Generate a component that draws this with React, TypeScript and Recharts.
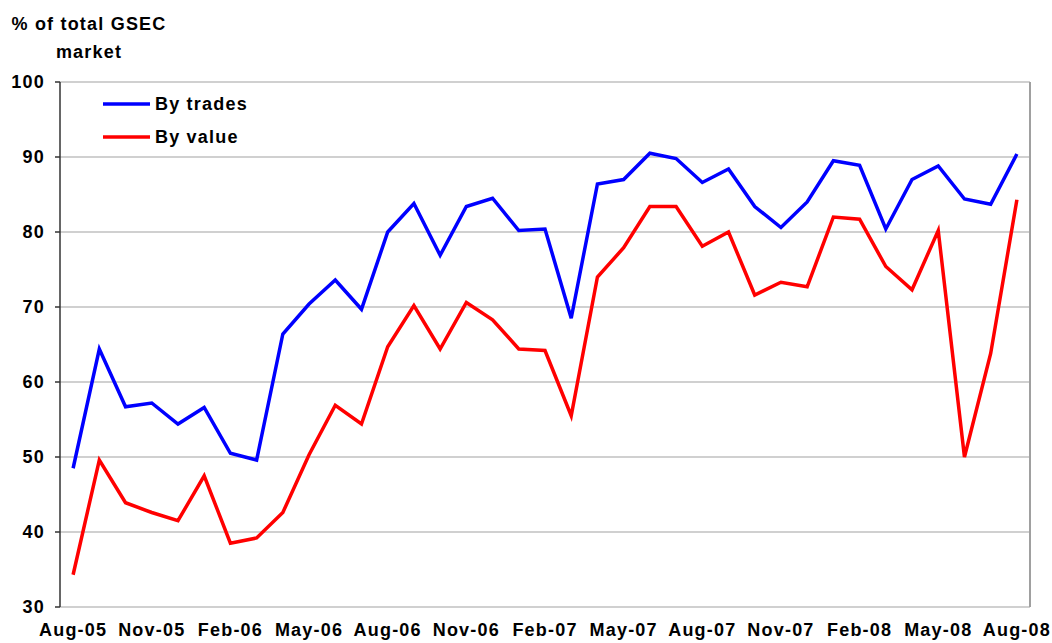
import React from "react";
import { LineChart, Line, XAxis, YAxis, CartesianGrid, ReferenceLine } from "recharts";

const months = [
  "Aug-05","Sep-05","Oct-05","Nov-05","Dec-05","Jan-06","Feb-06","Mar-06","Apr-06","May-06","Jun-06","Jul-06",
  "Aug-06","Sep-06","Oct-06","Nov-06","Dec-06","Jan-07","Feb-07","Mar-07","Apr-07","May-07","Jun-07","Jul-07",
  "Aug-07","Sep-07","Oct-07","Nov-07","Dec-07","Jan-08","Feb-08","Mar-08","Apr-08","May-08","Jun-08","Jul-08","Aug-08",
];

const byTrades = [
  48.5, 64.4, 56.7, 57.2, 54.4, 56.6, 50.5, 49.6, 66.4, 70.4, 73.6, 69.7,
  80.0, 83.8, 76.9, 83.4, 84.5, 80.2, 80.4, 68.5, 86.4, 87.0, 90.5, 89.8,
  86.6, 88.4, 83.4, 80.6, 84.0, 89.5, 88.9, 80.4, 87.0, 88.8, 84.4, 83.7, 90.4,
];

const byValue = [
  34.3, 49.6, 43.9, 42.6, 41.5, 47.5, 38.5, 39.2, 42.6, 50.3, 56.9, 54.4,
  64.7, 70.2, 64.4, 70.6, 68.3, 64.4, 64.2, 55.5, 74.0, 77.9, 83.4, 83.4,
  78.1, 80.0, 71.6, 73.3, 72.7, 82.0, 81.7, 75.4, 72.3, 80.2, 50.0, 63.8, 84.3,
];

const yTicks = [30, 40, 50, 60, 70, 80, 90, 100];
const labelIdx = [0, 3, 6, 9, 12, 15, 18, 21, 24, 27, 30, 33, 36];
const boundaryTicks = labelIdx.map((i) => i - 0.5);

const data = months.map((m, i) => ({ i, month: m, trades: byTrades[i], value: byValue[i] }));

const FONT = "Arial, 'Liberation Sans', sans-serif";
const textStyle = { fontFamily: FONT, fontWeight: 700, fontSize: 18, fill: "#000", letterSpacing: 1.2 } as const;

export default function App() {
  const domain: [number, number] = [-0.5, months.length - 0.5];
  return (
    <div style={{ position: "absolute", left: 0, top: 0, width: 1052, height: 643, background: "#fff" }}>
      <LineChart
        width={1052}
        height={643}
        data={data}
        margin={{ top: 82, right: 22, left: 0, bottom: 0 }}
      >
        <CartesianGrid horizontal vertical={false} stroke="#C0C0C0" strokeWidth={1.5} />
        <XAxis
          xAxisId="main"
          type="number"
          dataKey="i"
          domain={domain}
          ticks={boundaryTicks}
          tick={false}
          tickSize={5}
          height={0}
          axisLine={{ stroke: "#333", strokeWidth: 1.5 }}
          tickLine={{ stroke: "#333", strokeWidth: 1.5 }}
        />
        <XAxis
          xAxisId="labels"
          type="number"
          dataKey="i"
          domain={domain}
          ticks={labelIdx}
          interval={0}
          tickFormatter={(v: number) => months[v]}
          axisLine={false}
          tickLine={false}
          tickSize={5}
          tickMargin={11}
          height={36}
          tick={textStyle}
        />
        <YAxis
          type="number"
          domain={[30, 100]}
          ticks={yTicks}
          interval={0}
          width={60}
          tickSize={5}
          tickMargin={10}
          axisLine={{ stroke: "#333", strokeWidth: 1.5 }}
          tickLine={{ stroke: "#333", strokeWidth: 1.5 }}
          tick={textStyle}
        />
        <ReferenceLine xAxisId="main" x={months.length - 0.5} stroke="#A0A0A0" strokeWidth={2} />
        <Line
          xAxisId="main"
          type="linear"
          dataKey="trades"
          stroke="#0000FF"
          strokeWidth={3.5}
          dot={false}
          activeDot={false}
          isAnimationActive={false}
        />
        <Line
          xAxisId="main"
          type="linear"
          dataKey="value"
          stroke="#FF0000"
          strokeWidth={3.5}
          dot={false}
          activeDot={false}
          isAnimationActive={false}
        />
      </LineChart>
      <svg
        width={1052}
        height={643}
        style={{ position: "absolute", left: 0, top: 0, pointerEvents: "none" }}
      >
        <text x={89} y={30} textAnchor="middle" style={textStyle}>% of total GSEC</text>
        <text x={89} y={58} textAnchor="middle" style={textStyle}>market</text>
        <line x1={103} x2={150} y1={104} y2={104} stroke="#0000FF" strokeWidth={3.5} />
        <text x={155} y={110} style={textStyle}>By trades</text>
        <line x1={103} x2={150} y1={137} y2={137} stroke="#FF0000" strokeWidth={3.5} />
        <text x={155} y={143} style={textStyle}>By value</text>
      </svg>
    </div>
  );
}
